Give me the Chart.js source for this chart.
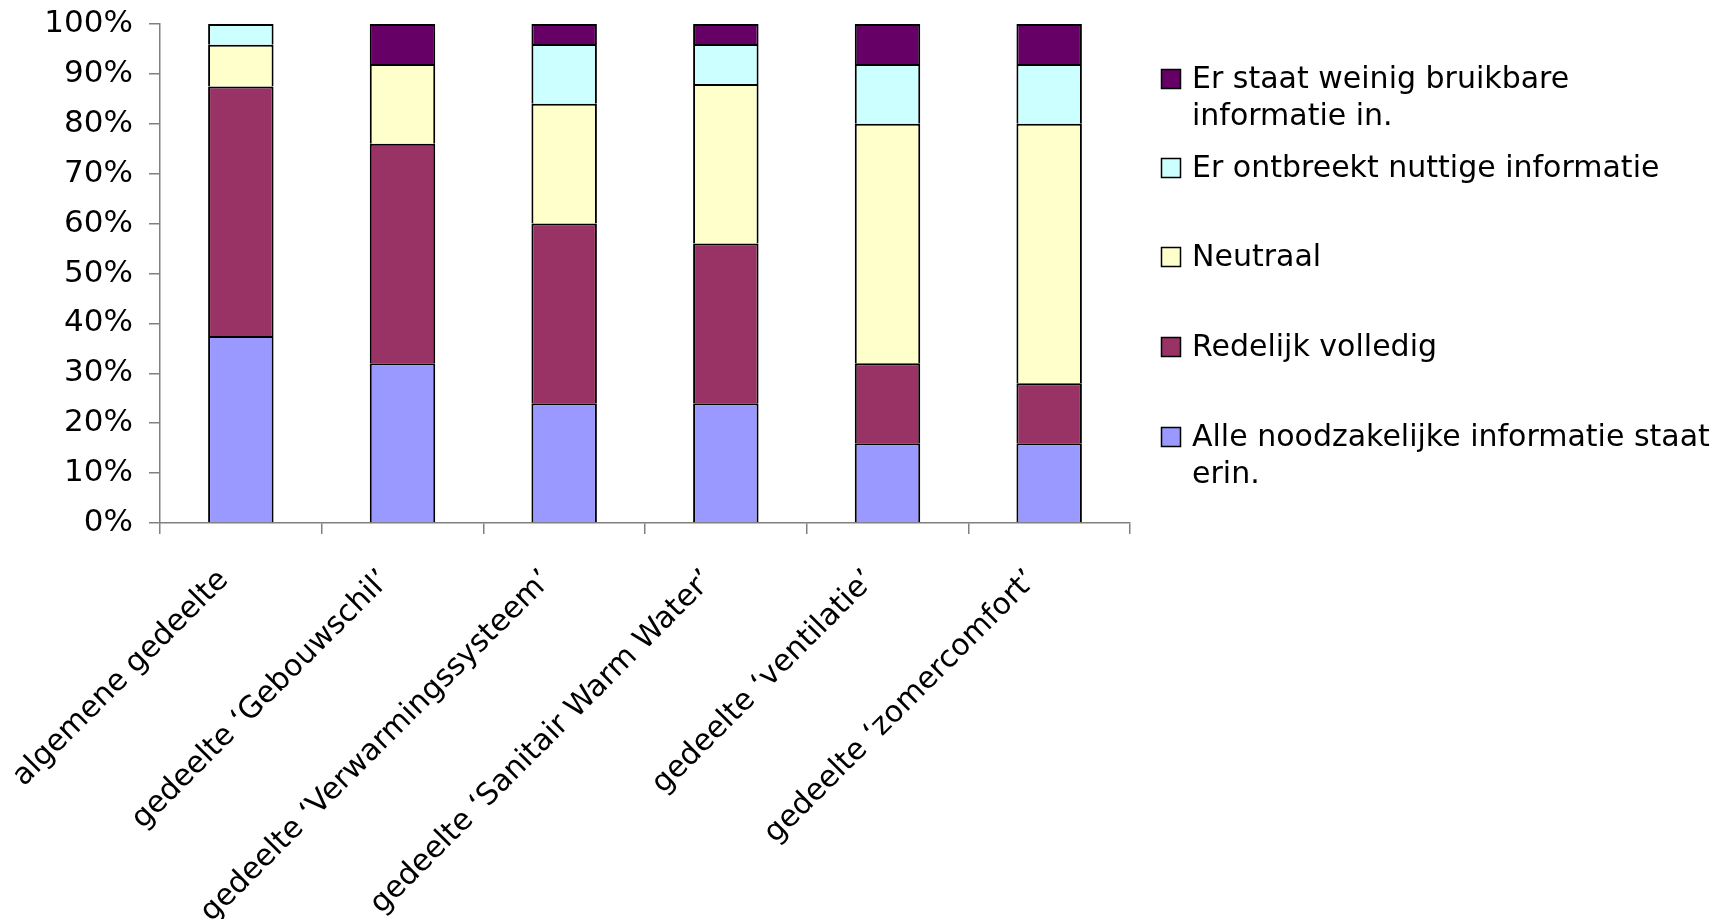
<!DOCTYPE html>
<html>
<head>
<meta charset="utf-8">
<script src="https://cdn.jsdelivr.net/npm/chart.js@4/dist/chart.umd.min.js"></script>
<style>
  html, body { margin: 0; padding: 0; background: #ffffff; }
  #wrap { width: 1712px; height: 919px; }
</style>
</head>
<body>
<div id="wrap"><canvas id="c" width="1712" height="919"></canvas></div>
<script>
// ---- data ----
const categories = [
  "algemene gedeelte",
  "gedeelte \u2018Gebouwschil\u2019",
  "gedeelte \u2018Verwarmingssysteem\u2019",
  "gedeelte \u2018Sanitair Warm Water\u2019",
  "gedeelte \u2018ventilatie\u2019",
  "gedeelte \u2018zomercomfort\u2019"
];
// series, bottom of the stack first
const seriesNames = [
  "Alle noodzakelijke informatie staat erin.",
  "Redelijk volledig",
  "Neutraal",
  "Er ontbreekt nuttige informatie",
  "Er staat weinig bruikbare informatie in."
];
// legend text split into lines as in the original legend
const legendLines = [
  ["Alle noodzakelijke informatie staat", "erin."],
  ["Redelijk volledig"],
  ["Neutraal"],
  ["Er ontbreekt nuttige informatie"],
  ["Er staat weinig bruikbare", "informatie in."]
];
const alleInformatie = [37.5, 32, 24, 24, 16, 16];
const redelijkVolledig = [50, 44, 36, 32, 16, 12];
const neutraal = [8.33, 16, 24, 32, 48, 52];
const ontbreektInformatie = [4.17, 0, 12, 8, 12, 12];
const weinigBruikbaar = [0, 8, 4, 4, 8, 8];
const yTicks = [0, 10, 20, 30, 40, 50, 60, 70, 80, 90, 100];

const seriesValues = [alleInformatie, redelijkVolledig, neutraal, ontbreektInformatie, weinigBruikbaar];
const seriesColors = ["#9999FF", "#993366", "#FFFFCC", "#CCFFFF", "#660066"];

const FONT = "'DejaVu Sans', Verdana, sans-serif";

// legend drawn at the right, top series first (as in the original)
const legendPlugin = {
  id: "sideLegend",
  afterDraw(chart) {
    const ctx = chart.ctx;
    // first-line centre y of each legend entry, top to bottom
    const entryY = [80, 169, 258, 348, 438];
    const lineH = 37;
    const boxX = 1161, boxS = 20, textX = 1192;
    ctx.save();
    ctx.font = "30px " + FONT;
    ctx.textBaseline = "middle";
    ctx.textAlign = "left";
    const n = chart.data.datasets.length;
    for (let k = 0; k < n; k++) {
      const di = n - 1 - k;
      const ds = chart.data.datasets[di];
      const y0 = entryY[k];
      const by = Math.round(y0 - boxS / 2) - 1;
      ctx.fillStyle = ds.backgroundColor;
      ctx.fillRect(boxX, by, boxS, boxS);
      ctx.strokeStyle = "#000000";
      ctx.lineWidth = 1.5;
      ctx.strokeRect(boxX + 0.5, by + 0.5, boxS - 1, boxS - 1);
      ctx.fillStyle = "#000000";
      legendLines[di].forEach((t, j) => ctx.fillText(t, textX, y0 + j * lineH));
    }
    ctx.restore();
  }
};

new Chart(document.getElementById("c"), {
  type: "bar",
  data: {
    labels: categories,
    datasets: seriesValues.map((vals, i) => ({
      label: seriesNames[i],
      data: vals,
      backgroundColor: seriesColors[i],
      borderColor: "#000000",
      borderWidth: 2,
      borderSkipped: "start",
      categoryPercentage: 1.0,
      barPercentage: 0.405
    }))
  },
  options: {
    responsive: false,
    animation: false,
    devicePixelRatio: 1,
    layout: { padding: { left: 0, right: 582, top: 24, bottom: 0 } },
    plugins: {
      legend: { display: false },
      tooltip: { enabled: false }
    },
    scales: {
      x: {
        stacked: true,
        grid: {
          display: true,
          offset: true,
          drawOnChartArea: false,
          drawTicks: true,
          tickLength: 11,
          color: "#808080",
          lineWidth: 1.5
        },
        border: { display: true, color: "#808080", width: 1.5 },
        ticks: {
          color: "#000000",
          font: { family: FONT, size: 30 },
          minRotation: 45,
          maxRotation: 45,
          autoSkip: false,
          padding: 29,
          labelOffset: -17
        },
        afterFit(scale) {
          scale.height = 396;
          scale.paddingLeft = 0;
          scale.paddingRight = 0;
        }
      },
      y: {
        stacked: true,
        min: 0,
        max: 100,
        afterBuildTicks(scale) { scale.ticks = yTicks.map(v => ({ value: v })); },
        grid: {
          display: true,
          drawOnChartArea: false,
          drawTicks: true,
          tickLength: 11,
          color: "#808080",
          lineWidth: 1.5
        },
        border: { display: true, color: "#808080", width: 1.5 },
        ticks: {
          color: "#000000",
          font: { family: FONT, size: 31 },
          padding: 16,
          callback: v => v + "%"
        },
        afterFit(scale) {
          scale.width = 160;
          scale.paddingTop = 0;
          scale.paddingBottom = 0;
        }
      }
    }
  },
  plugins: [legendPlugin]
});
</script>
</body>
</html>
